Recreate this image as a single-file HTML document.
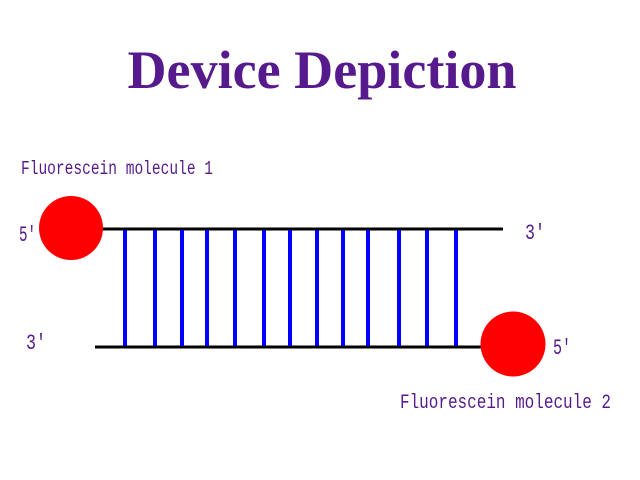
<!DOCTYPE html>
<html><head><meta charset="utf-8"><style>
html,body{margin:0;padding:0;background:#fff;width:640px;height:480px;overflow:hidden}
</style></head><body>
<svg width="640" height="480" xmlns="http://www.w3.org/2000/svg">
<rect width="640" height="480" fill="#fff"/>
<text x="322" y="88" text-anchor="middle" font-family="Liberation Serif, serif" font-weight="bold" font-size="54" fill="#561a8c" textLength="389" lengthAdjust="spacingAndGlyphs">Device Depiction</text>
<g fill="#561a8c" font-family="Liberation Mono, monospace">
<text x="21" y="174" font-size="19" textLength="192" lengthAdjust="spacingAndGlyphs">Fluorescein molecule 1</text>
<text x="400" y="408" font-size="20" textLength="211" lengthAdjust="spacingAndGlyphs">Fluorescein molecule 2</text>
<text x="19" y="241" font-size="22" textLength="17" lengthAdjust="spacingAndGlyphs">5'</text>
<text x="525" y="239" font-size="22" textLength="20" lengthAdjust="spacingAndGlyphs">3'</text>
<text x="26" y="349" font-size="22" textLength="20" lengthAdjust="spacingAndGlyphs">3'</text>
<text x="553" y="354" font-size="22" textLength="18" lengthAdjust="spacingAndGlyphs">5'</text>
</g>
<line x1="100" y1="229" x2="503" y2="229" stroke="#000" stroke-width="3"/>
<line x1="95" y1="347" x2="484" y2="347" stroke="#000" stroke-width="3"/>
<g stroke="#0000ff" stroke-width="4">
<line x1="125" y1="230" x2="125" y2="346"/>
<line x1="155" y1="230" x2="155" y2="346"/>
<line x1="182" y1="230" x2="182" y2="346"/>
<line x1="207" y1="230" x2="207" y2="346"/>
<line x1="235" y1="230" x2="235" y2="346"/>
<line x1="264" y1="230" x2="264" y2="346"/>
<line x1="290" y1="230" x2="290" y2="346"/>
<line x1="317" y1="230" x2="317" y2="346"/>
<line x1="343" y1="230" x2="343" y2="346"/>
<line x1="368" y1="230" x2="368" y2="346"/>
<line x1="399" y1="230" x2="399" y2="346"/>
<line x1="427" y1="230" x2="427" y2="346"/>
<line x1="456" y1="230" x2="456" y2="346"/>
</g>
<circle cx="71" cy="228" r="32" fill="#ff0000"/>
<circle cx="513" cy="344" r="32.5" fill="#ff0000"/>
</svg>
</body></html>
